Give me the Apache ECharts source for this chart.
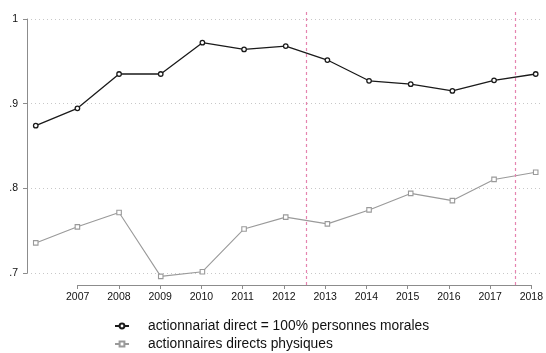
<!DOCTYPE html>
<html>
<head>
<meta charset="utf-8">
<script src="https://cdn.jsdelivr.net/npm/echarts@6/dist/echarts.min.js"></script>
<style>
  html, body { margin: 0; padding: 0; background: #fff; }
  #chart { width: 546px; height: 353px; }
</style>
</head>
<body>
<div id="chart"></div>
<script>
// years and the two series
var years = [2006, 2007, 2008, 2009, 2010, 2011, 2012, 2013, 2014, 2015, 2016, 2017, 2018];
var morales = [0.874, 0.8945, 0.935, 0.935, 0.972, 0.964, 0.968, 0.9515, 0.927, 0.923, 0.915, 0.9275, 0.935];
var physiques = [0.7355, 0.7545, 0.7715, 0.696, 0.7015, 0.752, 0.766, 0.758, 0.7745, 0.794, 0.7855, 0.8105, 0.819];
var breakYears = [2012.5, 2017.5];
var yTicks = [0.7, 0.8, 0.9, 1];
var xTicks = [2007, 2008, 2009, 2010, 2011, 2012, 2013, 2014, 2015, 2016, 2017, 2018];

var font = '"Liberation Sans", Arial, sans-serif';

function pairs(vals) {
  return years.map(function (y, i) { return [y, vals[i]]; });
}

var chart = echarts.init(document.getElementById('chart'));
chart.setOption({
  animation: false,
  textStyle: { fontFamily: font },
  grid: [
    // plot region
    { left: 27, right: 3, top: 10, bottom: 68 },
    // y axis (spans .7 to 1 only)
    { left: 27, right: 3, top: 19, bottom: 80 },
    // x axis (spans 2007 to 2018 only)
    { left: 77.7, right: 10.3, top: 10, bottom: 68 }
  ],
  xAxis: [
    { gridIndex: 0, type: 'value', min: 2005.79, max: 2018.175, show: false },
    { gridIndex: 1, type: 'value', min: 0, max: 1, show: false },
    {
      gridIndex: 2, type: 'value', min: 2007, max: 2018, interval: 1,
      axisLine: { show: true, lineStyle: { color: '#8c8c8c', width: 1 } },
      axisTick: { show: true, length: 4, lineStyle: { color: '#8c8c8c' } },
      axisLabel: { color: '#111', fontSize: 10.5, margin: 7, formatter: function (v) { return String(v); } },
      splitLine: { show: false }
    }
  ],
  yAxis: [
    { gridIndex: 0, type: 'value', min: 0.6858, max: 1.0106, show: false },
    {
      gridIndex: 1, type: 'value', min: 0.7, max: 1, interval: 0.1,
      axisLine: { show: true, lineStyle: { color: '#8c8c8c', width: 1 } },
      axisTick: { show: true, length: 4, lineStyle: { color: '#8c8c8c' } },
      axisLabel: {
        color: '#111', fontSize: 10.5, margin: 9,
        formatter: function (v) {
          var s = (Math.round(v * 10) / 10).toString();
          return s.replace(/^0/, '');
        }
      },
      splitLine: { show: true, lineStyle: { color: '#c8c8c8', type: [1, 3], width: 1 } }
    },
    { gridIndex: 2, type: 'value', min: 0, max: 1, show: false }
  ],
  legend: {
    orient: 'vertical',
    left: 114,
    top: 319,
    height: 40,
    padding: 0,
    itemWidth: 14,
    itemHeight: 6,
    itemGap: 4,
    textStyle: { color: '#111', fontSize: 13.8, fontFamily: font, padding: [0, 0, 0, 14] },
    data: ['actionnariat direct = 100% personnes morales', 'actionnaires directs physiques']
  },
  series: [
    {
      name: 'actionnariat direct = 100% personnes morales',
      type: 'line',
      xAxisIndex: 0, yAxisIndex: 0,
      data: pairs(morales),
      symbol: 'circle', symbolSize: 4.5,
      lineStyle: { color: '#1a1a1a', width: 1.3 },
      itemStyle: { color: '#fff', borderColor: '#1a1a1a', borderWidth: 1.3 },
      markLine: {
        silent: true,
        symbol: ['none', 'none'],
        label: { show: false },
        lineStyle: { color: '#e584b0', type: [3, 3], width: 1.2 },
        data: breakYears.map(function (x) { return { xAxis: x }; })
      },
      z: 3
    },
    {
      name: 'actionnaires directs physiques',
      type: 'line',
      xAxisIndex: 0, yAxisIndex: 0,
      data: pairs(physiques),
      symbol: 'rect', symbolSize: 4.5,
      lineStyle: { color: '#9a9a9a', width: 1.1 },
      itemStyle: { color: '#fff', borderColor: '#9a9a9a', borderWidth: 1.1 },
      z: 2
    }
  ]
});
</script>
</body>
</html>
